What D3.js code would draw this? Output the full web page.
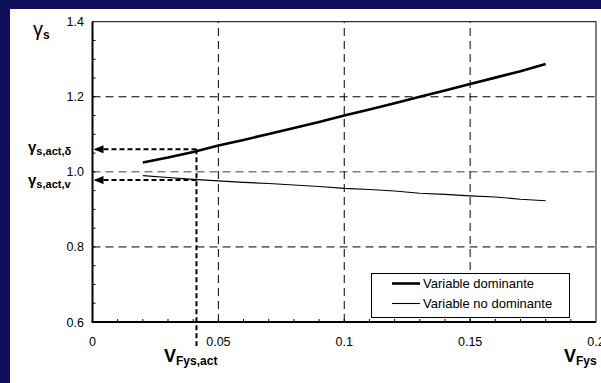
<!DOCTYPE html>
<html>
<head>
<meta charset="utf-8">
<script src="https://cdn.jsdelivr.net/npm/d3@7"></script>
<style>
  body { margin: 0; background: #10105a; }
  svg { display: block; font-family: "Liberation Sans", Arial, sans-serif; }
</style>
</head>
<body>
<div id="chart"></div>
<script>
// data
const vFys = [0.02, 0.03, 0.04, 0.05, 0.06, 0.07, 0.08, 0.09, 0.10, 0.11, 0.12, 0.13, 0.14, 0.15, 0.16, 0.17, 0.18];
const dominante = [1.025, 1.038, 1.053, 1.070, 1.085, 1.101, 1.117, 1.133, 1.150, 1.166, 1.183, 1.200, 1.217, 1.234, 1.251, 1.268, 1.287];
const noDominante = [0.990, 0.985, 0.980, 0.976, 0.972, 0.969, 0.965, 0.961, 0.956, 0.953, 0.949, 0.943, 0.940, 0.936, 0.933, 0.927, 0.923];
const xTicks = [0, 0.05, 0.1, 0.15, 0.2];
const xTickLabels = ["0", "0.05", "0.1", "0.15", "0.2"];
const yTicks = [0.6, 0.8, 1.0, 1.2, 1.4];
const yTickLabels = ["0.6", "0.8", "1.0", "1.2", "1.4"];
const seriesNames = ["Variable dominante", "Variable no dominante"];
const actV = 0.0413;      // V_Fys,act
const actDelta = 1.060;   // gamma s,act,delta
const actVar = 0.978;     // gamma s,act,v

const W = 601, H = 383;
const svg = d3.select("#chart").append("svg").attr("width", W).attr("height", H);

// white panel
svg.append("rect").attr("x", 10).attr("y", 9).attr("width", W - 10).attr("height", H - 9).attr("fill", "#fff");

const x = d3.scaleLinear().domain([0, 0.2]).range([92.5, 596]);
const y = d3.scaleLinear().domain([0.6, 1.4]).range([322, 21.7]);

const defs = svg.append("defs");
defs.append("marker")
  .attr("id", "arrow")
  .attr("viewBox", "0 0 10 8")
  .attr("refX", 10).attr("refY", 4)
  .attr("markerWidth", 10).attr("markerHeight", 8)
  .attr("markerUnits", "userSpaceOnUse")
  .attr("orient", "auto")
  .append("path").attr("d", "M0,0L10,4L0,8Z").attr("fill", "#000");

// grid
const grid = svg.append("g");
grid.selectAll("line.gy")
  .data(yTicks.filter(d => d > 0.6 && d < 1.4))
  .enter().append("line")
  .attr("x1", x(0)).attr("x2", x(0.2))
  .attr("y1", d => y(d)).attr("y2", d => y(d))
  .attr("stroke", d => d === 1.0 ? "#808080" : "#000")
  .attr("stroke-width", d => d === 1.0 ? 1.5 : 1)
  .attr("stroke-dasharray", "8,5");
grid.selectAll("line.gx")
  .data(xTicks.filter(d => d > 0 && d < 0.2))
  .enter().append("line")
  .attr("x1", d => x(d)).attr("x2", d => x(d))
  .attr("y1", y(0.6)).attr("y2", y(1.4))
  .attr("stroke", "#000").attr("stroke-width", 1)
  .attr("stroke-dasharray", "8,5");

// minor ticks (inside)
svg.append("g").selectAll("line")
  .data(d3.range(0.65, 1.4, 0.05))
  .enter().append("line")
  .attr("x1", x(0)).attr("x2", x(0) + 3)
  .attr("y1", d => y(d)).attr("y2", d => y(d))
  .attr("stroke", "#000");
svg.append("g").selectAll("line")
  .data(d3.range(0.01, 0.2, 0.01))
  .enter().append("line")
  .attr("x1", d => x(d)).attr("x2", d => x(d))
  .attr("y1", y(0.6)).attr("y2", y(0.6) - 3)
  .attr("stroke", "#000");

// frame
svg.append("rect")
  .attr("x", x(0)).attr("y", y(1.4))
  .attr("width", x(0.2) - x(0)).attr("height", y(0.6) - y(1.4))
  .attr("fill", "none").attr("stroke", "#000").attr("stroke-width", 1);
svg.append("line").attr("x1", x(0)).attr("x2", x(0)).attr("y1", y(1.4)).attr("y2", y(0.6))
  .attr("stroke", "#000").attr("stroke-width", 2);
svg.append("line").attr("x1", x(0) - 1).attr("x2", x(0.2)).attr("y1", y(0.6)).attr("y2", y(0.6))
  .attr("stroke", "#000").attr("stroke-width", 2);

// tick labels
svg.append("g").selectAll("text")
  .data(yTicks)
  .enter().append("text")
  .attr("x", 84).attr("y", d => y(d) + 4.5)
  .attr("text-anchor", "end").attr("font-size", 12.5).attr("fill", "#000")
  .text((d, i) => yTickLabels[i]);
svg.append("g").selectAll("text")
  .data(xTicks)
  .enter().append("text")
  .attr("x", d => x(d)).attr("y", 346)
  .attr("text-anchor", "middle").attr("font-size", 12.5).attr("fill", "#000")
  .text((d, i) => xTickLabels[i]);

// series
const line = d3.line().x(d => x(d[0])).y(d => y(d[1]));
svg.append("path")
  .datum(vFys.map((v, i) => [v, dominante[i]]))
  .attr("d", line).attr("fill", "none").attr("stroke", "#000").attr("stroke-width", 2.6);
svg.append("path")
  .datum(vFys.map((v, i) => [v, noDominante[i]]))
  .attr("d", line).attr("fill", "none").attr("stroke", "#000").attr("stroke-width", 1.1);

// dashed read-off lines
svg.append("line")
  .attr("x1", x(actV)).attr("x2", x(actV))
  .attr("y1", y(actDelta)).attr("y2", 346)
  .attr("stroke", "#000").attr("stroke-width", 2).attr("stroke-dasharray", "5,3");
[actDelta, actVar].forEach(v => {
  svg.append("line")
    .attr("x1", x(actV)).attr("x2", x(0) + 1)
    .attr("y1", y(v)).attr("y2", y(v))
    .attr("stroke", "#000").attr("stroke-width", 2).attr("stroke-dasharray", "5,3")
    .attr("marker-end", "url(#arrow)");
});

// legend
const lg = svg.append("g");
lg.append("rect").attr("x", 371.5).attr("y", 273.5).attr("width", 198).attr("height", 44)
  .attr("fill", "#fff").attr("stroke", "#000").attr("stroke-width", 1);
seriesNames.forEach((name, i) => {
  const ly = 283.5 + i * 20;
  lg.append("line").attr("x1", 392).attr("x2", 420).attr("y1", ly).attr("y2", ly)
    .attr("stroke", "#000").attr("stroke-width", i === 0 ? 2.6 : 1.1);
  lg.append("text").attr("x", 423).attr("y", ly + 4.5).attr("font-size", 13).attr("fill", "#000").text(name);
});

// axis titles
function label(xp, yp, big, sub, bigSize, subSize, weight) {
  const t = svg.append("text").attr("x", xp).attr("y", yp).attr("fill", "#000").attr("font-weight", "bold");
  t.append("tspan").attr("font-size", bigSize).attr("font-weight", weight || "bold").text(big);
  t.append("tspan").attr("font-size", subSize).attr("dy", 3).text(sub);
  return t;
}
label(28, 152, "γ", "s,act,δ", 15, 11);
label(28, 185, "γ", "s,act,v", 15, 11);
label(164, 362, "V", "Fys,act", 18, 12);
label(564, 362, "V", "Fys", 18, 12);
label(33, 36, "γ", "s", 20, 12, "normal");
</script>
</body>
</html>
